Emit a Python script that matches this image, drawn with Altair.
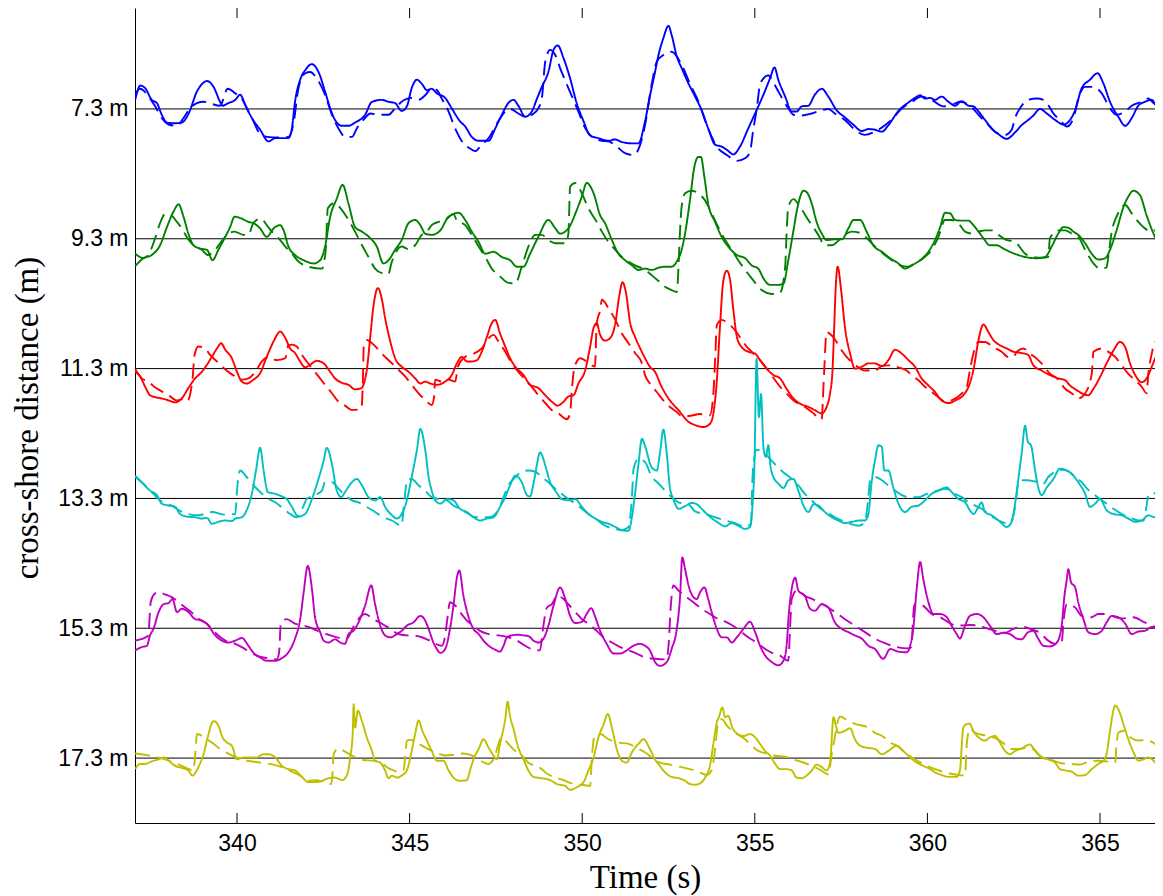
import altair as alt
import pandas as pd

# ---------------- data ----------------
time_ticks = [340, 345, 350, 355, 360, 365]
baselines = [7.3, 9.3, 11.3, 13.3, 15.3, 17.3]
band_names = ["7.3", "9.3", "11.3", "13.3", "15.3", "17.3"]
band_colors = ["#0000ff", "#008000", "#ff0000", "#00bfbf", "#bf00bf", "#bfbf00"]

# (time s, deviation m) ; positive deviation = drawn upwards
blue_solid = [(337.05,0.14),(337.20,0.36),(337.34,0.32),(337.53,0.14),(337.68,0.09),(337.82,-0.09),(337.97,-0.21),(338.21,-0.22),(338.40,-0.21),(338.60,-0.07),(338.84,0.27),(338.98,0.38),(339.13,0.43),(339.32,0.34),(339.51,0.11),(339.58,0.05),(339.75,0.09),(339.95,0.14),(340.09,0.22),(340.24,0.06),(340.43,-0.14),(340.67,-0.32),(340.91,-0.50),(341.11,-0.45),(341.49,-0.45),(341.59,-0.30),(341.68,0.11),(341.83,0.45),(341.98,0.60),(342.17,0.69),(342.36,0.57),(342.55,0.27),(342.70,0.01),(342.84,-0.17),(343.04,-0.26),(343.23,-0.26),(343.42,-0.21),(343.71,-0.09),(343.91,0.11),(344.20,0.14),(344.39,0.11),(344.58,0.09),(344.77,-0.03),(344.92,0.04),(345.06,0.32),(345.21,0.45),(345.35,0.39),(345.50,0.29),(345.64,0.31),(345.79,0.24),(346.03,0.17),(346.22,0.01),(346.46,-0.19),(346.61,-0.27),(346.80,-0.43),(346.99,-0.49),(347.29,-0.49),(347.48,-0.30),(347.67,-0.09),(347.86,0.09),(348.01,0.14),(348.15,0.05),(348.35,-0.12),(348.54,-0.04),(348.69,0.16),(348.83,0.34),(349.02,0.57),(349.17,0.91),(349.29,0.98),(349.46,0.78),(349.65,0.47),(349.84,0.09),(350.04,-0.19),(350.23,-0.41),(350.47,-0.45),(350.76,-0.49),(350.95,-0.47),(351.15,-0.51),(351.44,-0.53),(351.63,-0.53),(351.82,-0.19),(351.97,0.22),(352.11,0.57),(352.21,0.83),(352.35,1.09),(352.50,1.28),(352.59,1.14),(352.74,0.81),(352.88,0.63),(353.08,0.39),(353.27,0.19),(353.46,-0.02),(353.65,-0.30),(353.85,-0.55),(354.04,-0.58),(354.19,-0.63),(354.38,-0.70),(354.57,-0.58),(354.81,-0.30),(355.05,-0.02),(355.25,0.22),(355.44,0.47),(355.57,0.64),(355.68,0.45),(355.88,0.19),(356.07,-0.04),(356.21,-0.04),(356.36,0.04),(356.55,0.05),(356.74,0.22),(356.94,0.31),(357.13,0.19),(357.37,-0.02),(357.61,-0.13),(357.85,-0.24),(358.10,-0.34),(358.29,-0.31),(358.48,-0.32),(358.68,-0.35),(358.87,-0.25),(359.16,-0.03),(359.45,0.10),(359.64,0.17),(359.79,0.21),(359.93,0.16),(360.08,0.17),(360.22,0.14),(360.41,0.19),(360.61,0.11),(360.80,0.05),(360.99,0.12),(361.19,0.05),(361.33,0.04),(361.48,-0.04),(361.67,-0.17),(361.86,-0.30),(362.06,-0.39),(362.30,-0.46),(362.54,-0.36),(362.73,-0.25),(362.92,-0.17),(363.07,-0.10),(363.26,0.00),(363.46,-0.07),(363.70,-0.17),(363.94,-0.24),(364.13,-0.17),(364.28,-0.02),(364.47,0.32),(364.71,0.45),(364.93,0.55),(365.10,0.39),(365.29,0.11),(365.53,-0.12),(365.73,-0.26),(365.92,-0.14),(366.11,0.05),(366.30,0.11),(366.50,0.14),(366.64,0.04),(366.83,0.00)]
blue_dashed = [(337.05,0.22),(337.19,0.31),(337.44,0.19),(337.63,0.04),(337.82,-0.14),(338.02,-0.24),(338.26,-0.26),(338.45,-0.14),(338.64,0.01),(338.84,0.09),(339.03,0.11),(339.25,0.08),(339.51,0.05),(339.73,0.31),(339.95,0.24),(340.14,0.16),(340.33,-0.04),(340.48,-0.19),(340.62,-0.35),(340.86,-0.43),(341.20,-0.44),(341.49,-0.43),(341.64,-0.22),(341.78,0.32),(341.98,0.55),(342.12,0.57),(342.31,0.47),(342.55,0.22),(342.75,-0.09),(342.94,-0.30),(343.13,-0.43),(343.33,-0.43),(343.47,-0.30),(343.71,-0.14),(343.86,-0.07),(344.08,-0.09),(344.39,-0.09),(344.58,0.01),(344.77,0.11),(345.06,0.17),(345.26,0.14),(345.45,0.21),(345.64,0.32),(345.79,0.29),(345.93,0.16),(346.13,-0.04),(346.32,-0.30),(346.56,-0.53),(346.75,-0.61),(346.90,-0.65),(347.09,-0.55),(347.29,-0.45),(347.57,-0.19),(347.77,-0.04),(347.91,0.00),(348.15,-0.07),(348.35,-0.12),(348.54,-0.09),(348.73,0.01),(348.83,0.16),(348.93,0.73),(349.07,0.91),(349.22,0.83),(349.36,0.63),(349.60,0.32),(349.89,-0.04),(350.09,-0.30),(350.28,-0.43),(350.57,-0.49),(350.76,-0.50),(351.00,-0.58),(351.24,-0.68),(351.49,-0.71),(351.68,-0.55),(351.82,-0.25),(352.01,0.37),(352.16,0.73),(352.35,0.83),(352.59,0.88),(352.88,0.68),(353.12,0.39),(353.37,0.11),(353.61,-0.25),(353.90,-0.58),(354.19,-0.71),(354.48,-0.80),(354.72,-0.76),(354.86,-0.66),(354.96,-0.30),(355.05,-0.02),(355.15,0.37),(355.25,0.47),(355.39,0.52),(355.47,0.47),(355.63,0.32),(355.97,0.01),(356.12,-0.09),(356.36,-0.10),(356.65,-0.07),(356.94,-0.02),(357.13,0.00),(357.32,-0.07),(357.61,-0.17),(357.90,-0.32),(358.19,-0.40),(358.48,-0.35),(358.77,-0.25),(359.01,-0.14),(359.26,0.01),(359.55,0.11),(359.83,0.19),(360.12,0.14),(360.46,0.04),(360.70,0.06),(360.94,0.11),(361.19,0.07),(361.48,-0.09),(361.77,-0.25),(362.01,-0.37),(362.25,-0.40),(362.44,-0.32),(362.54,-0.14),(362.73,0.05),(362.92,0.14),(363.17,0.16),(363.36,0.14),(363.50,0.06),(363.65,-0.07),(363.84,-0.17),(364.04,-0.27),(364.23,-0.14),(364.37,0.16),(364.57,0.34),(364.81,0.34),(365.05,0.24),(365.29,0.01),(365.48,-0.09),(365.73,-0.04),(365.92,0.05),(366.21,0.11),(366.40,0.16),(366.55,0.09),(366.83,0.00)]

green_solid = [(337.05,-0.42),(337.29,-0.30),(337.53,-0.25),(337.77,-0.10),(337.97,0.18),(338.16,0.42),(338.31,0.53),(338.45,0.34),(338.59,0.08),(338.74,-0.10),(338.93,-0.15),(339.13,-0.17),(339.29,-0.33),(339.46,-0.17),(339.66,0.03),(339.80,0.18),(339.93,0.34),(340.14,0.31),(340.33,0.26),(340.48,0.24),(340.67,0.16),(340.86,0.03),(341.06,0.16),(341.25,0.21),(341.35,0.13),(341.49,-0.12),(341.68,-0.25),(341.93,-0.33),(342.22,-0.38),(342.41,-0.33),(342.55,-0.12),(342.70,0.34),(342.89,0.62),(343.06,0.83),(343.23,0.54),(343.42,0.18),(343.62,0.11),(343.86,0.01),(344.05,-0.12),(344.24,-0.38),(344.39,-0.33),(344.58,-0.17),(344.77,-0.02),(344.97,0.24),(345.16,0.29),(345.31,0.21),(345.45,0.08),(345.64,0.06),(345.89,0.13),(346.13,0.34),(346.42,0.40),(346.61,0.29),(346.80,0.11),(347.00,-0.05),(347.19,-0.23),(347.43,-0.20),(347.67,-0.28),(347.91,-0.33),(348.11,-0.43),(348.30,-0.43),(348.49,-0.23),(348.73,0.03),(349.02,0.29),(349.22,0.16),(349.36,0.08),(349.60,0.16),(349.84,0.44),(349.99,0.65),(350.13,0.86),(350.33,0.70),(350.52,0.36),(350.66,0.24),(350.86,-0.02),(351.05,-0.23),(351.24,-0.33),(351.44,-0.41),(351.63,-0.48),(351.82,-0.46),(352.01,-0.48),(352.25,-0.44),(352.45,-0.43),(352.59,-0.43),(352.74,-0.35),(352.88,-0.17),(352.98,0.08),(353.12,0.59),(353.25,1.11),(353.36,1.26),(353.44,1.26),(353.54,0.95),(353.65,0.54),(353.85,0.26),(354.04,0.03),(354.23,-0.12),(354.48,-0.25),(354.72,-0.30),(354.91,-0.41),(355.10,-0.46),(355.25,-0.61),(355.44,-0.71),(355.68,-0.71),(355.83,-0.69),(355.97,-0.33),(356.12,0.13),(356.26,0.54),(356.41,0.74),(356.50,0.72),(356.65,0.54),(356.79,0.26),(356.94,0.08),(357.08,-0.02),(357.28,-0.01),(357.52,-0.01),(357.71,0.16),(357.86,0.29),(358.05,0.29),(358.24,0.11),(358.43,-0.10),(358.68,-0.20),(358.92,-0.30),(359.16,-0.38),(359.35,-0.46),(359.54,-0.41),(359.79,-0.33),(360.03,-0.20),(360.22,-0.02),(360.37,0.18),(360.51,0.40),(360.66,0.39),(360.80,0.29),(360.94,0.28),(361.19,0.28),(361.33,0.21),(361.48,0.11),(361.62,0.01),(361.81,-0.10),(362.01,-0.10),(362.20,-0.15),(362.39,-0.20),(362.63,-0.25),(362.92,-0.29),(363.17,-0.30),(363.41,-0.28),(363.60,-0.12),(363.79,0.08),(363.94,0.18),(364.08,0.17),(364.23,0.11),(364.37,0.06),(364.57,-0.07),(364.76,-0.23),(364.95,-0.32),(365.15,-0.30),(365.29,-0.17),(365.48,0.13),(365.68,0.49),(365.82,0.65),(365.97,0.74),(366.16,0.67),(366.35,0.36),(366.55,0.08),(366.69,-0.07),(366.83,-0.05)]
green_dashed = [(337.05,-0.23),(337.29,-0.30),(337.48,-0.20),(337.63,0.01),(337.75,0.21),(337.92,0.38),(338.09,0.36),(338.26,0.26),(338.40,0.16),(338.59,-0.01),(338.79,-0.12),(338.98,-0.17),(339.15,-0.25),(339.32,-0.20),(339.51,-0.07),(339.71,0.06),(339.93,0.11),(340.19,0.06),(340.33,0.06),(340.48,0.25),(340.70,0.31),(340.86,0.21),(341.01,0.11),(341.20,0.01),(341.40,-0.12),(341.59,-0.23),(341.78,-0.35),(342.07,-0.43),(342.46,-0.46),(342.57,-0.17),(342.63,0.47),(342.82,0.55),(343.04,0.44),(343.23,0.29),(343.42,0.11),(343.62,-0.10),(343.81,-0.28),(344.00,-0.46),(344.20,-0.53),(344.39,-0.54),(344.47,-0.38),(344.58,-0.23),(344.77,-0.12),(344.97,-0.16),(345.16,-0.10),(345.35,0.06),(345.50,0.11),(345.64,0.21),(345.84,0.26),(346.03,0.29),(346.27,0.38),(346.37,0.28),(346.61,0.21),(346.80,0.06),(347.00,-0.12),(347.19,-0.28),(347.38,-0.46),(347.62,-0.58),(347.86,-0.68),(348.06,-0.69),(348.25,-0.43),(348.44,-0.12),(348.64,0.06),(348.83,0.06),(349.02,-0.02),(349.22,-0.07),(349.51,-0.07),(349.60,0.08),(349.65,0.80),(349.80,0.86),(349.99,0.70),(350.18,0.47),(350.42,0.26),(350.57,0.11),(350.76,-0.05),(350.96,-0.17),(351.15,-0.28),(351.34,-0.35),(351.53,-0.41),(351.82,-0.48),(352.01,-0.56),(352.21,-0.65),(352.40,-0.74),(352.59,-0.79),(352.74,-0.82),(352.79,-0.43),(352.83,0.08),(352.88,0.49),(352.98,0.70),(353.17,0.74),(353.36,0.70),(353.56,0.59),(353.75,0.39),(353.94,0.18),(354.14,-0.02),(354.33,-0.17),(354.52,-0.33),(354.72,-0.48),(354.91,-0.61),(355.20,-0.79),(355.49,-0.85),(355.73,-0.83),(355.88,-0.43),(355.92,0.08),(355.97,0.49),(356.12,0.61),(356.31,0.49),(356.55,0.29),(356.84,0.06),(357.03,-0.10),(357.23,-0.10),(357.42,-0.03),(357.61,0.06),(357.81,0.11),(358.05,0.09),(358.24,0.01),(358.48,-0.12),(358.72,-0.23),(358.97,-0.33),(359.21,-0.41),(359.45,-0.43),(359.64,-0.38),(359.88,-0.30),(360.12,-0.17),(360.32,0.03),(360.51,0.29),(360.70,0.29),(360.94,0.21),(361.09,0.11),(361.28,0.08),(361.48,0.11),(361.67,0.13),(361.86,0.13),(362.06,0.06),(362.25,-0.01),(362.54,-0.05),(362.83,-0.23),(363.07,-0.28),(363.31,-0.29),(363.50,-0.28),(363.55,0.01),(363.79,0.13),(363.99,0.13),(364.18,0.08),(364.37,0.03),(364.57,-0.17),(364.81,-0.38),(365.00,-0.46),(365.19,-0.44),(365.24,-0.28),(365.34,0.11),(365.48,0.34),(365.73,0.52),(365.92,0.39),(366.11,0.26),(366.30,0.16),(366.50,0.11),(366.69,0.18),(366.83,0.26)]

red_solid = [(337.05,-0.05),(337.19,-0.12),(337.34,-0.28),(337.48,-0.41),(337.63,-0.44),(337.82,-0.46),(338.02,-0.49),(338.21,-0.52),(338.40,-0.46),(338.59,-0.30),(338.79,-0.15),(338.98,-0.05),(339.13,0.06),(339.27,0.18),(339.42,0.31),(339.54,0.39),(339.66,0.29),(339.85,0.16),(340.00,-0.05),(340.14,-0.20),(340.28,-0.23),(340.48,-0.17),(340.67,-0.07),(340.86,0.18),(341.06,0.42),(341.25,0.57),(341.40,0.47),(341.54,0.31),(341.68,0.24),(341.83,0.11),(341.97,0.02),(342.12,0.06),(342.31,0.12),(342.51,0.08),(342.70,-0.05),(342.84,-0.15),(343.04,-0.22),(343.23,-0.25),(343.42,-0.32),(343.60,-0.30),(343.76,-0.02),(343.86,0.49),(343.95,0.95),(344.08,1.24),(344.20,1.06),(344.29,0.78),(344.44,0.42),(344.58,0.16),(344.77,0.03),(344.97,-0.05),(345.16,-0.15),(345.31,-0.23),(345.45,-0.20),(345.60,-0.23),(345.79,-0.25),(346.03,-0.20),(346.22,-0.10),(346.37,0.08),(346.51,0.18),(346.66,0.11),(346.80,0.11),(346.95,0.13),(347.09,0.26),(347.24,0.49),(347.38,0.70),(347.48,0.75),(347.62,0.54),(347.77,0.34),(347.91,0.16),(348.06,0.03),(348.30,-0.10),(348.49,-0.25),(348.73,-0.30),(348.93,-0.41),(349.12,-0.51),(349.29,-0.57),(349.46,-0.51),(349.60,-0.43),(349.75,-0.41),(349.89,-0.23),(350.09,-0.02),(350.23,0.34),(350.33,0.63),(350.42,0.70),(350.52,0.52),(350.66,0.43),(350.81,0.47),(350.96,0.70),(351.07,1.11),(351.17,1.33),(351.26,1.19),(351.39,0.70),(351.53,0.49),(351.68,0.31),(351.82,0.16),(351.96,0.03),(352.11,-0.05),(352.30,-0.28),(352.54,-0.49),(352.79,-0.64),(353.08,-0.82),(353.27,-0.87),(353.51,-0.90),(353.70,-0.85),(353.80,-0.69),(353.90,-0.18),(353.99,0.64),(354.09,1.36),(354.19,1.51),(354.28,1.38),(354.38,0.90),(354.48,0.49),(354.62,0.33),(354.81,0.26),(355.01,0.23),(355.15,0.13),(355.34,0.00),(355.54,-0.10),(355.73,-0.15),(355.92,-0.31),(356.12,-0.46),(356.31,-0.54),(356.55,-0.59),(356.74,-0.64),(356.94,-0.69),(357.08,-0.59),(357.18,-0.38),(357.25,-0.03),(357.30,0.64),(357.34,1.21),(357.40,1.57),(357.50,1.21),(357.61,0.64),(357.76,0.23),(357.90,0.00),(358.10,0.03),(358.29,0.08),(358.48,0.08),(358.68,0.04),(358.87,0.13),(359.06,0.29),(359.26,0.23),(359.45,0.13),(359.64,0.03),(359.83,-0.15),(360.03,-0.26),(360.22,-0.36),(360.41,-0.49),(360.61,-0.53),(360.85,-0.48),(361.04,-0.41),(361.19,-0.28),(361.33,-0.03),(361.48,0.44),(361.62,0.68),(361.77,0.56),(361.91,0.44),(362.10,0.36),(362.30,0.31),(362.49,0.26),(362.73,0.24),(362.92,0.21),(363.07,0.05),(363.31,-0.03),(363.55,-0.10),(363.79,-0.15),(363.99,-0.18),(364.13,-0.26),(364.32,-0.33),(364.47,-0.38),(364.66,-0.41),(364.81,-0.31),(365.00,-0.13),(365.19,0.08),(365.39,0.28),(365.58,0.41),(365.73,0.33),(365.87,0.08),(366.02,-0.10),(366.21,-0.21),(366.35,-0.15),(366.50,0.03),(366.64,0.21),(366.83,0.41)]
red_dashed = [(337.05,-0.01),(337.24,-0.15),(337.44,-0.20),(337.58,-0.27),(337.82,-0.35),(338.02,-0.41),(338.26,-0.49),(338.40,-0.47),(338.55,-0.51),(338.71,-0.17),(338.77,0.21),(338.88,0.34),(339.08,0.31),(339.22,0.21),(339.42,0.11),(339.61,0.01),(339.80,-0.07),(339.95,-0.12),(340.14,-0.17),(340.33,-0.15),(340.53,-0.05),(340.72,0.11),(340.91,0.18),(341.15,0.13),(341.40,0.16),(341.49,0.36),(341.59,0.37),(341.73,0.34),(341.88,0.21),(342.02,0.11),(342.17,0.01),(342.36,-0.12),(342.55,-0.25),(342.75,-0.38),(342.94,-0.51),(343.13,-0.57),(343.33,-0.64),(343.60,-0.62),(343.65,-0.12),(343.67,0.34),(343.76,0.44),(343.91,0.39),(344.10,0.29),(344.29,0.18),(344.49,0.08),(344.68,-0.02),(344.87,-0.12),(345.06,-0.25),(345.26,-0.38),(345.45,-0.48),(345.64,-0.56),(345.71,-0.43),(345.74,-0.17),(345.93,-0.20),(346.13,-0.17),(346.32,-0.20),(346.40,0.03),(346.56,0.16),(346.71,0.21),(346.85,0.23),(347.09,0.31),(347.29,0.47),(347.43,0.52),(347.57,0.42),(347.77,0.26),(347.96,0.08),(348.15,-0.05),(348.35,-0.17),(348.54,-0.28),(348.73,-0.41),(348.93,-0.53),(349.12,-0.64),(349.31,-0.69),(349.55,-0.78),(349.65,-0.69),(349.70,-0.33),(349.78,0.03),(349.94,0.16),(350.13,0.11),(350.37,0.03),(350.42,0.70),(350.52,0.90),(350.57,1.06),(350.76,0.93),(350.96,0.75),(351.15,0.54),(351.34,0.39),(351.53,0.24),(351.73,0.08),(351.82,-0.10),(351.96,-0.23),(352.16,-0.36),(352.35,-0.49),(352.54,-0.59),(352.74,-0.67),(352.88,-0.73),(353.08,-0.73),(353.41,-0.70),(353.70,-0.72),(353.80,-0.38),(353.85,0.13),(353.90,0.67),(354.04,0.75),(354.23,0.69),(354.43,0.59),(354.62,0.44),(354.81,0.31),(355.01,0.21),(355.20,0.10),(355.39,-0.03),(355.59,-0.18),(355.78,-0.31),(355.97,-0.41),(356.17,-0.51),(356.36,-0.56),(356.65,-0.67),(356.94,-0.78),(356.97,-0.49),(357.01,-0.03),(357.08,0.56),(357.23,0.51),(357.37,0.41),(357.52,0.28),(357.66,0.18),(357.81,0.10),(357.95,0.04),(358.19,-0.03),(358.48,-0.03),(358.68,0.04),(358.87,0.05),(359.16,0.02),(359.40,-0.03),(359.54,-0.10),(359.74,-0.18),(359.93,-0.28),(360.12,-0.36),(360.32,-0.44),(360.51,-0.51),(360.70,-0.49),(360.94,-0.41),(361.14,-0.28),(361.23,-0.03),(361.33,0.23),(361.48,0.41),(361.67,0.41),(361.91,0.33),(362.15,0.26),(362.34,0.18),(362.49,0.18),(362.59,0.26),(362.78,0.31),(362.97,0.23),(363.17,0.15),(363.36,0.05),(363.55,-0.08),(363.75,-0.15),(363.99,-0.31),(364.18,-0.38),(364.37,-0.46),(364.57,-0.38),(364.76,-0.08),(364.81,0.26),(365.05,0.31),(365.24,0.26),(365.44,0.18),(365.63,0.05),(365.82,-0.08),(366.02,-0.18),(366.21,-0.28),(366.35,-0.38),(366.40,-0.08),(366.50,0.23),(366.59,0.41),(366.83,0.36)]

cyan_solid = [(337.05,0.35),(337.24,0.25),(337.48,0.12),(337.68,0.05),(337.82,-0.08),(338.02,-0.11),(338.21,-0.13),(338.35,-0.24),(338.55,-0.28),(338.79,-0.29),(338.98,-0.31),(339.13,-0.30),(339.27,-0.39),(339.46,-0.36),(339.66,-0.34),(339.85,-0.35),(339.95,-0.31),(340.14,-0.29),(340.28,-0.18),(340.43,0.07),(340.55,0.43),(340.67,0.78),(340.77,0.43),(340.89,0.10),(341.11,0.07),(341.30,0.03),(341.44,-0.01),(341.59,-0.13),(341.78,-0.28),(341.97,-0.24),(342.17,-0.01),(342.36,0.30),(342.51,0.58),(342.60,0.78),(342.75,0.53),(342.89,0.12),(343.02,0.02),(343.13,0.10),(343.33,0.25),(343.47,0.30),(343.62,0.20),(343.81,0.02),(344.00,-0.03),(344.15,0.02),(344.29,-0.13),(344.49,-0.26),(344.63,-0.31),(344.77,-0.24),(344.92,-0.03),(345.06,0.33),(345.21,0.74),(345.31,1.07),(345.45,0.76),(345.55,0.33),(345.64,0.12),(345.74,-0.03),(345.89,-0.08),(346.08,-0.01),(346.27,-0.03),(346.46,-0.16),(346.66,-0.21),(346.85,-0.29),(347.04,-0.34),(347.24,-0.31),(347.43,-0.29),(347.62,-0.13),(347.77,0.02),(347.91,0.20),(348.06,0.35),(348.25,0.25),(348.40,0.05),(348.49,0.03),(348.59,0.23),(348.69,0.53),(348.78,0.71),(348.93,0.51),(349.07,0.25),(349.22,0.12),(349.41,-0.01),(349.60,-0.03),(349.80,-0.01),(349.99,-0.13),(350.18,-0.24),(350.38,-0.31),(350.57,-0.36),(350.76,-0.39),(350.96,-0.44),(351.15,-0.49),(351.34,-0.50),(351.44,-0.29),(351.53,0.07),(351.63,0.53),(351.73,0.92),(351.82,0.81),(352.01,0.48),(352.16,0.43),(352.25,0.69),(352.35,1.06),(352.45,0.69),(352.54,0.17),(352.64,-0.01),(352.79,-0.16),(352.98,-0.12),(353.17,-0.07),(353.32,-0.09),(353.46,-0.16),(353.65,-0.26),(353.90,-0.36),(354.14,-0.43),(354.33,-0.38),(354.52,-0.42),(354.72,-0.47),(354.86,-0.44),(354.93,-0.13),(354.99,0.53),(355.05,2.15),(355.12,1.25),(355.18,1.61),(355.25,0.79),(355.32,0.64),(355.39,0.82),(355.45,0.51),(355.54,0.33),(355.68,0.23),(355.83,0.16),(355.97,0.28),(356.12,0.30),(356.26,0.12),(356.41,-0.11),(356.55,-0.21),(356.70,-0.09),(356.84,-0.11),(357.03,-0.21),(357.23,-0.29),(357.42,-0.34),(357.61,-0.38),(357.81,-0.36),(358.05,-0.34),(358.19,-0.34),(358.29,-0.24),(358.39,0.28),(358.48,0.58),(358.58,0.82),(358.68,0.79),(358.75,0.43),(358.87,0.43),(359.01,0.17),(359.16,-0.08),(359.35,-0.21),(359.54,-0.13),(359.74,-0.11),(359.93,-0.03),(360.12,0.07),(360.32,0.12),(360.56,0.17),(360.70,0.10),(360.90,-0.01),(361.09,-0.06),(361.23,-0.18),(361.33,-0.24),(361.48,-0.13),(361.57,-0.06),(361.67,-0.21),(361.86,-0.26),(362.06,-0.34),(362.30,-0.44),(362.44,-0.36),(362.54,-0.08),(362.63,0.28),(362.73,0.69),(362.83,1.12),(362.91,0.87),(363.00,0.82),(363.12,0.43),(363.21,0.17),(363.31,0.05),(363.46,0.17),(363.65,0.30),(363.84,0.46),(364.04,0.43),(364.23,0.35),(364.37,0.25),(364.57,0.07),(364.71,-0.13),(364.86,-0.08),(365.00,-0.01),(365.19,-0.18),(365.39,-0.24),(365.63,-0.26),(365.82,-0.31),(366.02,-0.36),(366.21,-0.34),(366.40,-0.26),(366.59,-0.29),(366.83,-0.16)]
cyan_dashed = [(337.05,0.33),(337.34,0.20),(337.58,0.07),(337.77,-0.03),(338.11,-0.11),(338.31,-0.18),(338.59,-0.24),(338.88,-0.26),(339.27,-0.21),(339.66,-0.25),(339.95,-0.24),(340.00,0.12),(340.09,0.43),(340.28,0.33),(340.48,0.20),(340.67,0.10),(340.86,0.01),(341.11,-0.06),(341.35,-0.16),(341.54,-0.24),(341.73,-0.29),(341.93,-0.11),(342.02,-0.01),(342.26,0.05),(342.46,0.12),(342.55,0.25),(342.75,0.25),(342.94,0.15),(343.13,0.05),(343.33,-0.03),(343.52,-0.06),(343.76,-0.13),(344.00,-0.21),(344.24,-0.29),(344.49,-0.34),(344.77,-0.42),(344.82,-0.18),(344.87,0.07),(344.92,0.28),(345.06,0.30),(345.26,0.20),(345.45,0.12),(345.64,0.02),(345.84,-0.01),(346.08,-0.03),(346.27,-0.11),(346.46,-0.16),(346.71,-0.24),(346.90,-0.29),(347.29,-0.29),(347.57,-0.18),(347.72,0.02),(347.86,0.20),(348.01,0.30),(348.25,0.41),(348.44,0.43),(348.64,0.41),(348.83,0.33),(349.02,0.25),(349.22,0.15),(349.41,0.07),(349.60,-0.01),(349.80,-0.08),(349.99,-0.16),(350.18,-0.24),(350.38,-0.31),(350.66,-0.42),(350.96,-0.47),(351.15,-0.49),(351.34,-0.44),(351.44,0.02),(351.49,0.46),(351.63,0.61),(351.82,0.56),(352.01,0.34),(352.21,0.23),(352.40,0.12),(352.59,0.02),(352.79,-0.06),(353.08,-0.09),(353.27,-0.20),(353.56,-0.24),(353.85,-0.29),(354.14,-0.34),(354.43,-0.38),(354.72,-0.44),(354.89,-0.39),(354.93,0.28),(354.99,0.64),(355.05,0.75),(355.30,0.69),(355.49,0.58),(355.68,0.47),(355.88,0.38),(356.07,0.30),(356.26,0.20),(356.45,0.07),(356.65,-0.03),(356.84,-0.13),(357.08,-0.21),(357.32,-0.29),(357.61,-0.36),(358.00,-0.42),(358.19,-0.36),(358.29,0.02),(358.34,0.28),(358.48,0.33),(358.68,0.28),(358.87,0.20),(359.06,0.12),(359.26,0.05),(359.45,0.02),(359.74,0.02),(359.98,0.07),(360.22,0.11),(360.51,0.15),(360.80,0.07),(361.00,0.02),(361.19,-0.06),(361.38,-0.11),(361.57,-0.16),(361.77,-0.24),(361.96,-0.31),(362.15,-0.36),(362.34,-0.39),(362.44,-0.34),(362.54,-0.13),(362.62,0.20),(362.68,0.28),(362.88,0.28),(363.12,0.26),(363.36,0.23),(363.50,0.33),(363.70,0.41),(363.89,0.44),(364.08,0.42),(364.28,0.33),(364.47,0.25),(364.61,0.16),(364.81,0.07),(365.00,-0.01),(365.19,-0.08),(365.39,-0.16),(365.63,-0.24),(365.87,-0.29),(366.11,-0.34),(366.26,-0.34),(366.35,-0.11),(366.40,0.05),(366.50,0.08),(366.83,0.08)]

magenta_solid = [(337.05,-0.34),(337.24,-0.29),(337.39,-0.27),(337.48,-0.11),(337.58,-0.01),(337.73,0.25),(337.87,0.37),(338.02,0.39),(338.13,0.45),(338.26,0.25),(338.40,0.30),(338.59,0.25),(338.79,0.14),(338.98,0.12),(339.17,0.04),(339.37,-0.11),(339.56,-0.19),(339.75,-0.22),(339.95,-0.19),(340.14,-0.15),(340.33,-0.27),(340.48,-0.38),(340.67,-0.45),(340.86,-0.50),(341.11,-0.50),(341.30,-0.46),(341.49,-0.37),(341.68,-0.16),(341.83,0.14),(341.93,0.55),(342.05,0.96),(342.17,0.61),(342.26,0.17),(342.41,-0.06),(342.51,-0.19),(342.65,-0.22),(342.84,-0.17),(342.99,-0.22),(343.13,-0.24),(343.23,-0.09),(343.37,-0.04),(343.52,0.09),(343.71,0.35),(343.89,0.66),(344.00,0.37),(344.15,0.04),(344.29,-0.11),(344.44,-0.14),(344.63,-0.09),(344.77,-0.04),(344.92,0.04),(345.11,0.09),(345.31,0.19),(345.45,0.12),(345.55,-0.01),(345.69,-0.22),(345.79,-0.32),(345.89,-0.38),(346.03,-0.32),(346.17,-0.01),(346.27,0.35),(346.37,0.78),(346.44,0.89),(346.56,0.50),(346.71,0.17),(346.85,-0.01),(347.00,-0.09),(347.14,-0.19),(347.29,-0.27),(347.48,-0.33),(347.62,-0.36),(347.72,-0.27),(347.82,-0.14),(347.96,-0.11),(348.15,-0.10),(348.30,-0.11),(348.44,-0.12),(348.59,-0.19),(348.73,-0.22),(348.88,-0.16),(349.02,0.04),(349.17,0.35),(349.36,0.63),(349.51,0.45),(349.65,0.19),(349.80,0.08),(349.99,0.10),(350.13,0.22),(350.26,0.31),(350.38,0.17),(350.52,-0.04),(350.71,-0.24),(350.91,-0.39),(351.10,-0.39),(351.29,-0.34),(351.48,-0.27),(351.68,-0.24),(351.82,-0.27),(351.96,-0.34),(352.11,-0.52),(352.25,-0.58),(352.45,-0.52),(352.59,-0.32),(352.74,-0.01),(352.83,0.45),(352.90,1.09),(352.98,0.91),(353.08,0.66),(353.22,0.48),(353.32,0.45),(353.41,0.55),(353.54,0.63),(353.65,0.45),(353.75,0.25),(353.90,-0.01),(354.04,-0.14),(354.19,-0.14),(354.33,-0.22),(354.48,-0.14),(354.67,-0.01),(354.86,0.10),(355.01,-0.06),(355.15,-0.27),(355.30,-0.42),(355.49,-0.52),(355.68,-0.57),(355.83,-0.50),(355.92,-0.27),(355.99,0.25),(356.07,0.61),(356.17,0.78),(356.26,0.58),(356.45,0.50),(356.60,0.30),(356.74,0.27),(356.94,0.37),(357.13,0.32),(357.32,0.09),(357.52,-0.01),(357.71,-0.06),(357.90,-0.11),(358.10,-0.16),(358.29,-0.27),(358.48,-0.32),(358.72,-0.47),(358.92,-0.32),(359.16,-0.36),(359.40,-0.37),(359.50,-0.27),(359.59,-0.01),(359.69,0.61),(359.79,1.02),(359.88,0.76),(360.03,0.40),(360.17,0.22),(360.37,0.22),(360.56,0.17),(360.70,0.04),(360.85,-0.09),(360.94,-0.16),(361.09,0.04),(361.23,0.19),(361.43,0.22),(361.62,0.17),(361.81,0.04),(362.01,-0.09),(362.20,-0.07),(362.39,-0.09),(362.59,-0.16),(362.73,-0.17),(362.92,-0.06),(363.07,-0.04),(363.21,-0.16),(363.36,-0.27),(363.55,-0.28),(363.75,-0.22),(363.89,0.04),(363.97,0.50),(364.04,0.76),(364.08,0.91),(364.16,0.71),(364.28,0.63),(364.37,0.40),(364.52,0.14),(364.66,-0.06),(364.86,-0.09),(365.05,-0.04),(365.19,0.09),(365.34,0.19),(365.53,0.17),(365.73,0.07),(365.92,-0.09),(366.11,-0.05),(366.30,-0.04),(366.50,0.02),(366.64,-0.01),(366.83,-0.14)]
magenta_dashed = [(337.05,-0.19),(337.44,-0.11),(337.46,0.09),(337.50,0.40),(337.58,0.51),(337.73,0.56),(337.87,0.53),(338.11,0.48),(338.31,0.40),(338.50,0.32),(338.74,0.22),(338.93,0.13),(339.13,0.07),(339.37,-0.07),(339.66,-0.19),(339.95,-0.24),(340.14,-0.29),(340.38,-0.37),(340.57,-0.42),(340.86,-0.46),(341.15,-0.48),(341.22,-0.37),(341.27,0.07),(341.44,0.14),(341.68,0.07),(341.93,0.04),(342.17,0.00),(342.41,-0.06),(342.65,-0.10),(342.89,-0.14),(343.18,-0.16),(343.37,0.02),(343.71,0.22),(343.95,0.14),(344.20,0.07),(344.44,-0.01),(344.68,-0.09),(344.92,-0.11),(345.21,-0.12),(345.50,-0.17),(345.69,-0.22),(345.93,-0.27),(346.03,-0.11),(346.08,0.09),(346.17,0.40),(346.32,0.35),(346.46,0.25),(346.66,0.12),(346.85,0.04),(347.04,-0.04),(347.29,-0.09),(347.57,-0.11),(347.86,-0.14),(348.11,-0.19),(348.35,-0.27),(348.59,-0.33),(348.78,-0.34),(348.85,-0.06),(348.98,0.32),(349.12,0.37),(349.27,0.50),(349.46,0.45),(349.60,0.37),(349.80,0.25),(349.99,0.14),(350.18,0.07),(350.42,-0.04),(350.62,-0.14),(350.86,-0.22),(351.10,-0.29),(351.34,-0.34),(351.58,-0.39),(351.82,-0.45),(352.11,-0.47),(352.45,-0.48),(352.50,-0.27),(352.57,0.37),(352.64,0.66),(352.79,0.58),(352.98,0.50),(353.22,0.40),(353.46,0.30),(353.70,0.22),(353.94,0.14),(354.19,0.09),(354.33,0.05),(354.57,-0.04),(354.81,-0.14),(355.05,-0.22),(355.30,-0.32),(355.54,-0.39),(355.73,-0.42),(355.97,-0.50),(356.02,-0.01),(356.07,0.45),(356.21,0.58),(356.45,0.50),(356.74,0.43),(357.03,0.35),(357.32,0.25),(357.61,0.14),(357.90,0.04),(358.19,-0.06),(358.48,-0.16),(358.77,-0.23),(359.11,-0.29),(359.45,-0.31),(359.53,-0.29),(359.62,0.37),(359.83,0.36),(360.12,0.22),(360.37,0.17),(360.61,0.09),(360.85,0.04),(361.23,0.05),(361.48,0.04),(361.77,-0.01),(362.06,-0.05),(362.25,-0.07),(362.49,-0.01),(362.78,0.02),(363.02,-0.02),(363.26,-0.07),(363.50,-0.19),(363.70,-0.24),(363.89,-0.22),(363.94,0.09),(364.04,0.37),(364.28,0.32),(364.47,0.19),(364.76,0.17),(364.95,0.22),(365.19,0.22),(365.34,0.19),(365.63,0.15),(365.97,0.17),(366.26,0.10),(366.50,0.04),(366.83,-0.01)]

yellow_solid = [(337.05,-0.17),(337.19,-0.09),(337.34,-0.09),(337.53,-0.05),(337.73,-0.02),(337.87,0.01),(338.02,-0.04),(338.21,-0.12),(338.40,-0.15),(338.59,-0.19),(338.71,-0.27),(338.88,-0.14),(339.03,0.06),(339.15,0.32),(339.32,0.57),(339.46,0.50),(339.58,0.32),(339.71,0.24),(339.85,0.19),(340.00,-0.02),(340.19,0.01),(340.38,0.01),(340.57,0.01),(340.77,0.06),(340.91,0.06),(341.11,0.01),(341.30,-0.12),(341.49,-0.17),(341.68,-0.19),(341.88,-0.29),(342.07,-0.37),(342.26,-0.37),(342.46,-0.35),(342.65,-0.31),(342.84,-0.30),(343.04,-0.34),(343.18,-0.27),(343.28,0.01),(343.35,0.37),(343.38,0.83),(343.42,0.47),(343.50,0.73),(343.62,0.57),(343.76,0.32),(343.91,0.11),(344.00,-0.04),(344.15,-0.07),(344.29,-0.19),(344.39,-0.31),(344.49,-0.27),(344.63,-0.30),(344.77,-0.27),(344.92,-0.19),(345.06,0.11),(345.16,0.37),(345.26,0.58),(345.37,0.42),(345.50,0.27),(345.64,0.11),(345.79,-0.04),(345.98,-0.04),(346.13,-0.19),(346.27,-0.30),(346.46,-0.35),(346.66,-0.34),(346.75,-0.19),(346.85,-0.02),(347.00,0.14),(347.14,0.29),(347.29,0.16),(347.43,0.04),(347.53,-0.02),(347.62,0.22),(347.77,0.60),(347.84,0.87),(347.91,0.65),(348.01,0.45),(348.15,0.16),(348.30,-0.02),(348.44,-0.19),(348.59,-0.29),(348.83,-0.31),(349.07,-0.34),(349.27,-0.40),(349.51,-0.43),(349.65,-0.49),(349.84,-0.45),(350.04,-0.37),(350.18,-0.19),(350.33,0.01),(350.47,0.32),(350.62,0.52),(350.74,0.68),(350.86,0.47),(351.00,0.14),(351.15,-0.04),(351.29,-0.07),(351.44,0.09),(351.63,0.22),(351.78,0.29),(351.96,0.14),(352.11,-0.02),(352.25,-0.12),(352.40,-0.22),(352.59,-0.29),(352.79,-0.31),(352.98,-0.35),(353.12,-0.40),(353.27,-0.41),(353.41,-0.39),(353.56,-0.30),(353.70,-0.12),(353.80,0.22),(353.90,0.55),(353.96,0.63),(354.06,0.78),(354.14,0.63),(354.23,0.65),(354.35,0.47),(354.48,0.38),(354.67,0.34),(354.86,0.37),(355.01,0.32),(355.15,0.22),(355.30,0.11),(355.44,0.04),(355.59,-0.09),(355.73,-0.17),(355.92,-0.17),(356.07,-0.19),(356.21,-0.30),(356.36,-0.31),(356.50,-0.27),(356.65,-0.19),(356.79,-0.10),(356.94,-0.14),(357.08,-0.19),(357.18,-0.07),(357.28,0.63),(357.34,0.52),(357.42,0.39),(357.61,0.42),(357.76,0.46),(357.90,0.29),(358.05,0.19),(358.24,0.16),(358.48,0.14),(358.68,0.06),(358.87,0.11),(359.11,0.19),(359.30,0.11),(359.50,0.01),(359.69,-0.07),(359.88,-0.12),(360.08,-0.17),(360.22,-0.22),(360.41,-0.26),(360.61,-0.29),(360.85,-0.29),(360.94,-0.19),(361.04,0.47),(361.12,0.52),(361.22,0.53),(361.33,0.42),(361.48,0.32),(361.67,0.27),(361.81,0.32),(361.96,0.34),(362.10,0.24),(362.25,0.11),(362.39,0.06),(362.54,0.11),(362.73,0.15),(362.97,0.21),(363.12,0.11),(363.31,0.01),(363.50,-0.02),(363.70,-0.07),(363.84,-0.17),(363.99,-0.19),(364.18,-0.21),(364.37,-0.27),(364.57,-0.26),(364.76,-0.17),(364.95,-0.09),(365.10,-0.04),(365.19,0.06),(365.29,0.42),(365.44,0.81),(365.55,0.73),(365.68,0.52),(365.82,0.29),(365.97,0.09),(366.11,-0.04),(366.26,-0.02),(366.40,0.01),(366.55,-0.04),(366.69,-0.12),(366.83,-0.08)]
yellow_dashed = [(337.05,0.07),(337.34,0.05),(337.63,0.02),(338.02,-0.04),(338.40,-0.12),(338.74,-0.19),(338.79,0.06),(338.84,0.37),(339.13,0.29),(339.32,0.22),(339.51,0.14),(339.75,0.07),(339.95,0.02),(340.14,-0.02),(340.53,-0.06),(340.82,-0.08),(341.06,-0.10),(341.35,-0.15),(341.59,-0.21),(341.83,-0.27),(342.07,-0.35),(342.31,-0.34),(342.60,-0.39),(342.73,-0.40),(342.77,-0.22),(342.80,0.06),(342.94,0.15),(343.13,0.10),(343.33,0.04),(343.66,-0.03),(343.95,-0.04),(344.15,-0.07),(344.44,-0.17),(344.68,-0.21),(344.82,-0.19),(344.87,0.01),(344.92,0.27),(345.02,0.28),(345.26,0.22),(345.50,0.15),(345.74,0.09),(346.03,0.04),(346.27,0.05),(346.56,0.07),(346.80,0.04),(346.99,-0.02),(347.29,-0.09),(347.43,-0.02),(347.67,0.32),(347.86,0.22),(348.06,0.11),(348.25,0.04),(348.44,-0.07),(348.64,-0.12),(348.78,-0.15),(348.98,-0.24),(349.22,-0.30),(349.46,-0.34),(349.70,-0.39),(349.99,-0.41),(350.23,-0.43),(350.28,0.01),(350.36,0.34),(350.52,0.37),(350.76,0.29),(351.05,0.24),(351.34,0.22),(351.63,0.14),(351.82,0.09),(352.01,0.01),(352.25,-0.07),(352.54,-0.10),(352.79,-0.13),(353.12,-0.17),(353.36,-0.21),(353.61,-0.26),(353.75,-0.19),(353.85,0.14),(353.94,0.55),(354.04,0.60),(354.19,0.50),(354.43,0.39),(354.72,0.29),(354.91,0.19),(355.10,0.11),(355.34,0.07),(355.54,0.04),(355.88,0.02),(356.12,-0.02),(356.36,-0.06),(356.65,-0.12),(356.89,-0.18),(357.13,-0.25),(357.23,0.06),(357.30,0.27),(357.47,0.64),(357.71,0.57),(357.95,0.52),(358.24,0.48),(358.48,0.39),(358.72,0.33),(358.92,0.24),(359.11,0.19),(359.35,0.09),(359.55,0.01),(359.74,-0.05),(359.98,-0.12),(360.22,-0.17),(360.51,-0.22),(360.90,-0.26),(361.09,-0.27),(361.14,0.22),(361.23,0.45),(361.38,0.39),(361.57,0.36),(361.81,0.34),(362.06,0.28),(362.25,0.21),(362.44,0.14),(362.68,0.14),(362.88,0.16),(363.07,0.14),(363.26,0.04),(363.46,-0.02),(363.65,-0.04),(363.89,-0.08),(364.18,-0.09),(364.42,-0.10),(364.71,-0.05),(364.95,-0.04),(365.19,-0.05),(365.44,-0.07),(365.48,0.22),(365.53,0.39),(365.68,0.42),(365.87,0.32),(366.11,0.27),(366.30,0.28),(366.59,0.22),(366.83,0.11)]

series = [
    ("7.3", 7.3, blue_solid, blue_dashed),
    ("9.3", 9.3, green_solid, green_dashed),
    ("11.3", 11.3, red_solid, red_dashed),
    ("13.3", 13.3, cyan_solid, cyan_dashed),
    ("15.3", 15.3, magenta_solid, magenta_dashed),
    ("17.3", 17.3, yellow_solid, yellow_dashed),
]

rows = []
for name, base, solid, dashed in series:
    for style, pts in (("measured", solid), ("model", dashed)):
        for t, d in pts:
            rows.append({"t": t, "y": base - d, "band": name, "style": style,
                         "key": name + "-" + style})
df = pd.DataFrame(rows)

# ---------------- chart ----------------
W, H = 1020, 815
x_scale = alt.Scale(domain=[337.045, 366.593], nice=False, zero=False)
y_scale = alt.Scale(domain=[5.745, 18.3], reverse=True, nice=False, zero=False)

base_lines = alt.Chart(pd.DataFrame({"y": baselines})).mark_rule(
    color="black", strokeWidth=1
).encode(y=alt.Y("y:Q", scale=y_scale))

lines = alt.Chart(df).mark_line(strokeWidth=1.9, clip=True, interpolate="monotone").encode(
    x=alt.X("t:Q", scale=x_scale,
            axis=alt.Axis(values=time_ticks, title="Time (s)", grid=False, ticks=False,
                          labelFont="Liberation Sans", labelFontSize=23, labelColor="black",
                          labelPadding=9, domainColor="black", domainWidth=1,
                          titleFont="Liberation Serif", titleFontSize=33,
                          titleFontWeight="normal", titleColor="black",
                          titleY=64, titleBaseline="alphabetic")),
    y=alt.Y("y:Q", scale=y_scale,
            axis=alt.Axis(values=baselines, labelExpr="format(datum.value, '.1f') + ' m'",
                          title="cross-shore distance (m)", grid=False, ticks=False,
                          labelFont="Liberation Sans", labelFontSize=23, labelColor="black",
                          labelPadding=7, domainColor="black", domainWidth=1,
                          titleFont="Liberation Serif", titleFontSize=33,
                          titleFontWeight="normal", titleColor="black",
                          titleX=-108, titleY=H / 2 + 2, titleAngle=270,
                          titleAlign="center", titleBaseline="middle")),
    color=alt.Color("band:N", scale=alt.Scale(domain=band_names, range=band_colors), legend=None),
    strokeDash=alt.StrokeDash("style:N", scale=alt.Scale(domain=["measured", "model"],
                                                          range=[[1, 0], [15, 7]]), legend=None),
    detail="key:N",
)

tick_df = pd.DataFrame({"t": time_ticks})
bottom_ticks = alt.Chart(tick_df).mark_rule(color="black", strokeWidth=1).encode(
    x=alt.X("t:Q", scale=x_scale), y=alt.value(H - 10), y2=alt.value(H))
top_ticks = alt.Chart(tick_df).mark_rule(color="black", strokeWidth=1).encode(
    x=alt.X("t:Q", scale=x_scale), y=alt.value(0), y2=alt.value(10))

chart = alt.layer(base_lines, lines, bottom_ticks, top_ticks).properties(
    width=W, height=H,
    padding={"left": 127, "top": 0, "right": 0, "bottom": 73},
    autosize=alt.AutoSizeParams(type="none"),
    background="white",
).configure_view(stroke=None)

chart.save("out.html", embed_options={"renderer": "svg", "actions": False})
